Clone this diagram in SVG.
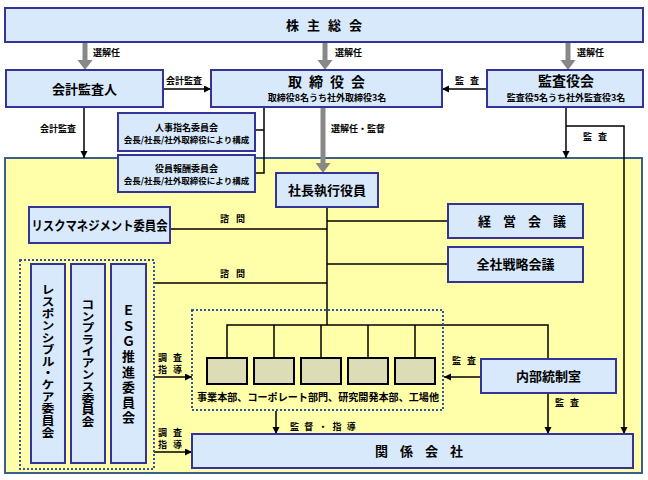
<svg xmlns="http://www.w3.org/2000/svg" width="648" height="480" viewBox="0 0 648 480">
<defs>
<style>
text{font-family:"Noto Sans CJK JP","Noto Sans CJK SC",sans-serif;font-weight:bold;fill:#000}
.box{fill:#d7e9fb;stroke:#333399;stroke-width:2}
.dept{fill:#dcdcb6;stroke:#000;stroke-width:2}
.dot{fill:none;stroke:#2f55a4;stroke-width:2;stroke-dasharray:2 2}
.ln{fill:none;stroke:#000;stroke-width:1.5}
.gr{fill:none;stroke:#888;stroke-width:5}
.t13{font-size:13px}
.t14{font-size:14px}
.s9{font-size:9px}
.s85{font-size:8.5px}
.lab{font-size:9px}
</style>
<marker id="ah" markerUnits="userSpaceOnUse" markerWidth="8" markerHeight="8" refX="7" refY="3.5" orient="auto"><path d="M0,0 L7,3.5 L0,7 z" fill="#000"/></marker>
<marker id="gh" markerUnits="userSpaceOnUse" markerWidth="11" markerHeight="16" refX="0" refY="7.5" orient="auto"><path d="M0,0 L10,7.5 L0,15 z" fill="#888"/></marker>
</defs>
<rect width="648" height="480" fill="#fff"/>

<g id="group-company">
<rect x="5" y="158" width="637" height="315" fill="#ffffaa" stroke="#3a5f8f" stroke-width="2"/>
</g>

<g id="connectors">
<line class="gr" x1="85" y1="42" x2="85" y2="60" marker-end="url(#gh)"/>
<line class="gr" x1="325" y1="42" x2="325" y2="60" marker-end="url(#gh)"/>
<line class="gr" x1="568" y1="42" x2="568" y2="60" marker-end="url(#gh)"/>
<line class="gr" x1="323" y1="107" x2="323" y2="163" marker-end="url(#gh)"/>
<line class="ln" x1="163" y1="89" x2="211" y2="89" marker-end="url(#ah)"/>
<line class="ln" x1="486" y1="89" x2="442" y2="89" marker-end="url(#ah)"/>
<line class="ln" x1="84" y1="108" x2="84" y2="158" marker-end="url(#ah)"/>
<polyline class="ln" points="264,107 264,173 255,173"/>
<line class="ln" x1="255" y1="130" x2="264" y2="130"/>
<line class="ln" x1="566" y1="107" x2="566" y2="158" marker-end="url(#ah)"/>
<polyline class="ln" points="566,126 624,126 624,434" marker-end="url(#ah)"/>
<line class="ln" x1="327" y1="207" x2="327" y2="325"/>
<line class="ln" x1="327" y1="221" x2="448" y2="221"/>
<line class="ln" x1="327" y1="264" x2="448" y2="264"/>
<line class="ln" x1="170" y1="229" x2="327" y2="229"/>
<line class="ln" x1="154" y1="283" x2="327" y2="283"/>
<polyline class="ln" points="548,359 548,325 227,325 227,358"/>
<line class="ln" x1="274" y1="325" x2="274" y2="358"/>
<line class="ln" x1="321" y1="325" x2="321" y2="358"/>
<line class="ln" x1="368" y1="325" x2="368" y2="358"/>
<line class="ln" x1="415" y1="325" x2="415" y2="358"/>
<line class="ln" x1="481" y1="377" x2="444" y2="377" marker-end="url(#ah)"/>
<line class="ln" x1="548" y1="393" x2="548" y2="434" marker-end="url(#ah)"/>
<line class="ln" x1="276" y1="411" x2="276" y2="434" marker-end="url(#ah)"/>
<line class="ln" x1="154" y1="377" x2="192" y2="377" marker-end="url(#ah)"/>
<line class="ln" x1="154" y1="452" x2="192" y2="452" marker-end="url(#ah)"/>
<text class="lab" x="93" y="56">選解任</text>
<text class="lab" x="335" y="56">選解任</text>
<text class="lab" x="577" y="56">選解任</text>
<text class="lab" x="166" y="84">会計監査</text>
<text class="lab" x="455" y="84" letter-spacing="6">監査</text>
<text class="lab" x="40" y="132">会計監査</text>
<text class="lab" x="331" y="132">選解任・監督</text>
<text class="lab" x="583" y="140" letter-spacing="6">監査</text>
<text class="lab" x="220" y="222" letter-spacing="7">諮問</text>
<text class="lab" x="220" y="277" letter-spacing="7">諮問</text>
<text class="lab" x="452" y="364" letter-spacing="6">監査</text>
<text class="lab" x="555" y="406" letter-spacing="6">監査</text>
<text class="lab" x="290" y="430" letter-spacing="5.2">監督・指導</text>
<text class="lab" x="158" y="361" letter-spacing="6">調査</text>
<text class="lab" x="158" y="373" letter-spacing="6">指導</text>
<text class="lab" x="158" y="436" letter-spacing="6">調査</text>
<text class="lab" x="158" y="448" letter-spacing="6">指導</text>
</g>

<g id="shareholders">
<rect class="box" x="5" y="8" width="638" height="34"/>
<text class="t13" x="286" y="30" letter-spacing="8">株主総会</text>
</g>
<g id="auditor">
<rect class="box" x="6" y="70" width="157" height="37"/>
<text class="t13" x="84.5" y="94" text-anchor="middle">会計監査人</text>
</g>
<g id="board">
<rect class="box" x="211" y="70" width="231" height="37"/>
<text class="t14" x="288" y="87" letter-spacing="7">取締役会</text>
<text class="s9" x="327" y="101" text-anchor="middle">取締役8名うち社外取締役3名</text>
</g>
<g id="kansayakukai">
<rect class="box" x="487" y="70" width="156" height="37"/>
<text class="t14" x="566" y="86" text-anchor="middle">監査役会</text>
<text class="s9" x="566" y="101" text-anchor="middle">監査役5名うち社外監査役3名</text>
</g>
<g id="nomination">
<rect class="box" x="118" y="113" width="137" height="38"/>
<text class="s9" x="186.5" y="131" text-anchor="middle">人事指名委員会</text>
<text class="s85" x="186.5" y="143" text-anchor="middle">会長/社長/社外取締役により構成</text>
</g>
<g id="remuneration">
<rect class="box" x="118" y="155" width="137" height="37"/>
<text class="s9" x="186.5" y="172" text-anchor="middle">役員報酬委員会</text>
<text class="s85" x="186.5" y="184" text-anchor="middle">会長/社長/社外取締役により構成</text>
</g>
<g id="president">
<rect class="box" x="276" y="173" width="102" height="34"/>
<text class="t13" x="327" y="195" text-anchor="middle">社長執行役員</text>
</g>
<g id="management-meeting">
<rect class="box" x="448" y="204" width="135" height="34"/>
<text class="t13" x="478" y="226" letter-spacing="12">経営会議</text>
</g>
<g id="strategy-meeting">
<rect class="box" x="448" y="247" width="135" height="35"/>
<text class="t13" x="515.5" y="269" text-anchor="middle">全社戦略会議</text>
</g>
<g id="risk">
<rect class="box" x="29" y="207" width="141" height="36"/>
<text class="t13" x="99.5" y="230" text-anchor="middle" textLength="136" lengthAdjust="spacingAndGlyphs">リスクマネジメント委員会</text>
</g>
<g id="committees">
<rect class="dot" x="20" y="260" width="134" height="209"/>
</g>
<g id="responsible-care">
<rect class="box" x="31" y="264" width="34" height="199"/>
<text class="t13" x="48" y="361" text-anchor="middle" style="writing-mode:vertical-rl" textLength="155" lengthAdjust="spacingAndGlyphs">レスポンシブル・ケア委員会</text>
</g>
<g id="compliance">
<rect class="box" x="71" y="264" width="34" height="199"/>
<text class="t13" x="88" y="363" text-anchor="middle" style="writing-mode:vertical-rl" textLength="129" lengthAdjust="spacingAndGlyphs">コンプライアンス委員会</text>
</g>
<g id="esg">
<rect class="box" x="111" y="264" width="35" height="199"/>
<text class="t13" x="128.5" y="364" text-anchor="middle" style="writing-mode:vertical-rl" textLength="120" lengthAdjust="spacing">ＥＳＧ推進委員会</text>
</g>
<g id="departments">
<rect class="dot" x="192" y="310" width="251" height="100"/>
<rect class="dept" x="207" y="358" width="40" height="26"/>
<rect class="dept" x="254" y="358" width="40" height="26"/>
<rect class="dept" x="301" y="358" width="40" height="26"/>
<rect class="dept" x="348" y="358" width="40" height="26"/>
<rect class="dept" x="395" y="358" width="40" height="26"/>
<text x="197" y="401" font-size="10.5" textLength="242" lengthAdjust="spacingAndGlyphs">事業本部、コーポレート部門、研究開発本部、工場他</text>
</g>
<g id="internal-control">
<rect class="box" x="481" y="359" width="135" height="34"/>
<text class="t13" x="548.5" y="381" text-anchor="middle">内部統制室</text>
</g>
<g id="affiliates">
<rect class="box" x="192" y="434" width="441" height="34"/>
<text class="t13" x="375" y="456" letter-spacing="12">関係会社</text>
</g>
</svg>
